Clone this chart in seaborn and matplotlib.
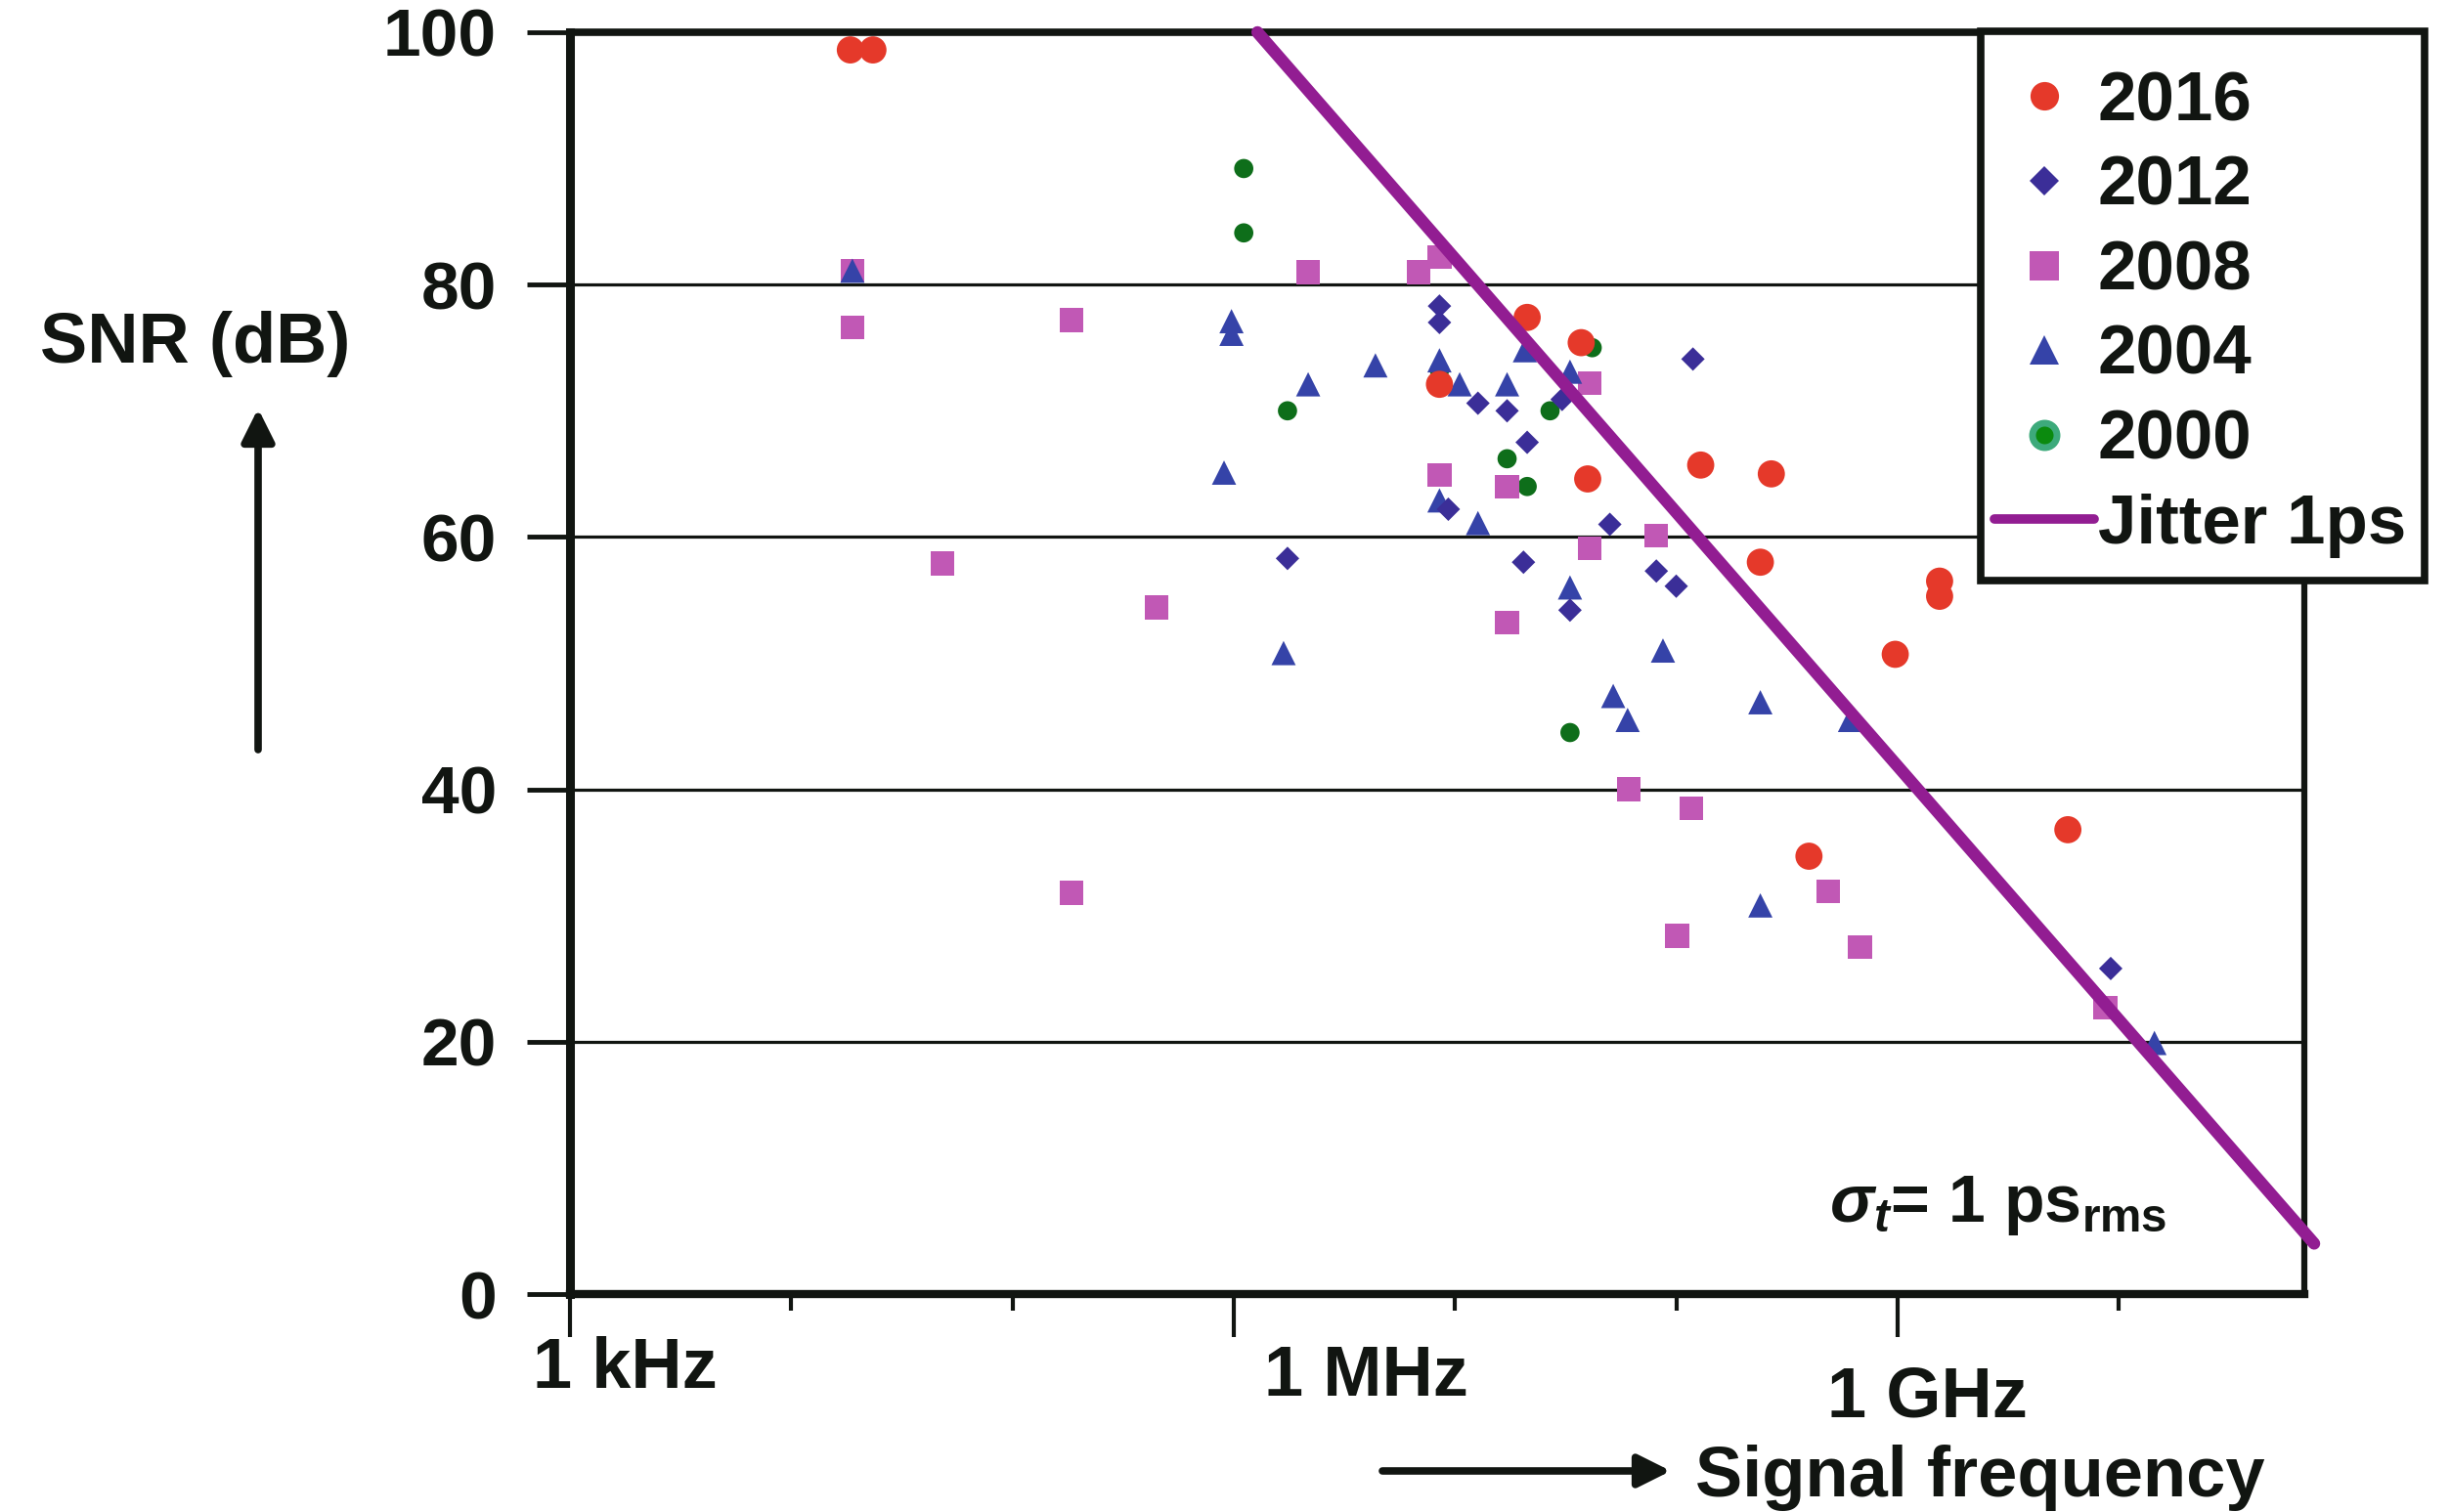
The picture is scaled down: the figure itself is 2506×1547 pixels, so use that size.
import matplotlib
matplotlib.use("Agg")
import matplotlib.pyplot as plt
import seaborn as sns
import pandas as pd
import numpy as np
from matplotlib.lines import Line2D
from matplotlib.patches import Rectangle
from matplotlib.ticker import FixedLocator, NullFormatter

# ---------------- data ----------------
years = ["2000", "2008", "2004", "2012", "2016"]

freq_2016 = [18.5e3, 23.4e3, 21.2e6, 37.2e6, 8.51e6, 39.8e6, 129e6, 269e6,
             240e6, 1.55e9, 1.55e9, 977e6, 398e6, 5.89e9]
snr_2016 = [98.6, 98.6, 77.4, 75.4, 72.1, 64.6, 65.7, 65.0,
            58.0, 56.5, 55.3, 50.7, 34.7, 36.8]

freq_2012 = [8.51e6, 8.51e6, 12.7e6, 17.2e6, 30.5e6, 21.2e6, 9.33e6, 50.1e6,
             1.75e6, 20.4e6, 81.3e6, 100e6, 33.1e6, 119e6, 9.2e9]
snr_2012 = [78.3, 77.0, 70.6, 70.0, 70.9, 67.5, 62.2, 61.0,
            58.3, 58.0, 57.3, 56.1, 54.2, 74.1, 25.8]

freq_2008 = [18.9e3, 18.9e3, 48.3e3, 185e3, 447e3, 185e3, 2.17e6, 6.86e6,
             8.51e6, 40.7e6, 8.51e6, 17.2e6, 81.3e6, 40.7e6, 17.2e6, 61.0e6,
             117e6, 486e6, 101e6, 676e6, 8.71e9]
snr_2008 = [81.1, 76.6, 57.9, 77.2, 54.4, 31.8, 81.0, 81.0,
            82.2, 72.2, 64.9, 64.0, 60.1, 59.1, 53.2, 40.0,
            38.5, 31.9, 28.4, 27.5, 22.7]

freq_2004 = [18.9e3, 977e3, 977e3, 904e3, 1.68e6, 2.17e6, 4.37e6, 8.51e6,
             8.51e6, 10.5e6, 12.7e6, 17.2e6, 20.7e6, 33.1e6, 33.1e6, 51.9e6,
             60.3e6, 87.1e6, 240e6, 610e6, 240e6, 14.5e9]
snr_2004 = [81.1, 77.1, 76.1, 65.1, 50.8, 72.1, 73.6, 74.0,
            62.9, 72.1, 61.1, 72.1, 74.8, 73.1, 56.0, 47.4,
            45.5, 51.0, 46.9, 45.5, 30.8, 19.9]

freq_2000 = [185e3, 1.11e6, 1.11e6, 1.75e6, 8.51e6, 26.9e6, 17.2e6, 21.2e6,
             41.7e6, 33.1e6]
snr_2000 = [77.2, 89.2, 84.1, 70.0, 73.2, 70.0, 66.2, 64.0, 75.0, 44.5]

jitter_freq = [1.28e6, 76.4e9]
jitter_snr = [100.0, 4.0]

y_ticks = [0, 20, 40, 60, 80, 100]
x_tick_labels = ["1 kHz", "1 MHz", "1 GHz"]

# ---------------- style ----------------
sns.set_theme(style="white")
plt.rcParams["font.family"] = ["Liberation Sans", "DejaVu Sans"]
plt.rcParams["font.weight"] = "bold"
plt.rcParams["mathtext.fontset"] = "custom"
plt.rcParams["mathtext.rm"] = "Liberation Sans:bold"
plt.rcParams["mathtext.bf"] = "Liberation Sans:bold"
plt.rcParams["mathtext.it"] = "Liberation Sans:italic"

INK = "#111511"
RED = "#E5392A"
DIAM = "#3B2E98"
PINK = "#C158B5"
BLUE = "#3543A8"
GREEN = "#0E6E1A"
PURPLE = "#921D92"

W, H = 2506, 1547
fig = plt.figure(figsize=(W / 100, H / 100), dpi=100)
fig.patch.set_facecolor("white")
L, R, B, T = 583, 2357, 1324, 33
ax = fig.add_axes([L / W, 1 - B / H, (R - L) / W, (B - T) / H])
ax.set_facecolor("white")

# ---------------- points ----------------
series = {"2000": (freq_2000, snr_2000), "2004": (freq_2004, snr_2004),
          "2008": (freq_2008, snr_2008), "2012": (freq_2012, snr_2012),
          "2016": (freq_2016, snr_2016)}
frames = [pd.DataFrame({"freq": series[yr][0], "snr": series[yr][1], "year": yr})
          for yr in years]
df = pd.concat(frames, ignore_index=True)

palette = {"2016": RED, "2012": DIAM, "2008": PINK, "2004": BLUE, "2000": GREEN}
markers = {"2016": "o", "2012": "D", "2008": "s", "2004": "^", "2000": "o"}
sizes = {"2016": 400, "2012": 150, "2008": 310, "2004": 320, "2000": 200}

sns.scatterplot(data=df, x="freq", y="snr", hue="year", style="year", size="year",
                palette=palette, markers=markers, sizes=sizes, hue_order=years,
                style_order=years, size_order=years, linewidth=0, legend=False,
                ax=ax, zorder=3)

# ---------------- jitter line ----------------
jdf = pd.DataFrame({"freq": jitter_freq, "snr": jitter_snr})
sns.lineplot(data=jdf, x="freq", y="snr", color=PURPLE, lw=9, ax=ax,
             estimator=None, sort=False, zorder=4, clip_on=False)

# ---------------- axes ----------------
ax.set_xscale("log")
ax.set_xlim(1e3, 6.9e10)
ax.set_ylim(0, 100)
ax.xaxis.set_major_locator(FixedLocator([1e3, 1e6, 1e9]))
ax.xaxis.set_minor_locator(FixedLocator([1e4, 1e5, 1e7, 1e8, 1e10]))
ax.xaxis.set_major_formatter(NullFormatter())
ax.xaxis.set_minor_formatter(NullFormatter())
ax.set_yticks(y_ticks)
ax.set_yticklabels([str(v) for v in y_ticks], fontsize=50, fontweight="bold", color=INK)
ax.tick_params(axis="x", which="major", direction="out", length=32, width=3, color=INK, bottom=True)
ax.tick_params(axis="x", which="minor", direction="out", length=12, width=3, color=INK, bottom=True)
ax.tick_params(axis="y", which="major", direction="out", length=32, width=3.5, color=INK, left=True, pad=22)
ax.yaxis.grid(True, color=INK, lw=2.3)
ax.xaxis.grid(False)
ax.set_axisbelow(True)
ax.set_xlabel("")
ax.set_ylabel("")
for side, lw in [("left", 6.5), ("bottom", 6.0), ("top", 5.5), ("right", 4.5)]:
    ax.spines[side].set_visible(True)
    ax.spines[side].set_color(INK)
    ax.spines[side].set_linewidth(lw)

# ---------------- texts ----------------
def ftext(x, y, s, **kw):
    fig.text(x / W, 1 - y / H, s, color=INK, fontweight="bold", **kw)

for lab, xl, yc in zip(x_tick_labels, [545, 1293, 1869], [1401, 1409, 1430]):
    ftext(xl, yc, lab, fontsize=52, ha="left", va="center")

ftext(200, 352, "SNR (dB)", fontsize=52, ha="center", va="center")
ftext(1734, 1512, "Signal frequency", fontsize=52, ha="left", va="center")
ftext(1871, 1250, r"$\sigma_t$= 1 ps$_{\mathbf{rms}}$", fontsize=49, ha="left", va="baseline")

arrow_kw = dict(arrowstyle="-|>", lw=5.5, color=INK, mutation_scale=50, shrinkA=0, shrinkB=0)
ax.annotate("", xy=(264, H - 418), xytext=(264, H - 767), xycoords="figure pixels",
            textcoords="figure pixels", arrowprops=arrow_kw, annotation_clip=False)
ax.annotate("", xy=(1709, H - 1505), xytext=(1414, H - 1505), xycoords="figure pixels",
            textcoords="figure pixels", arrowprops=arrow_kw, annotation_clip=False)

# ---------------- legend ----------------
box_x0, box_x1, box_y0, box_y1 = 2026, 2480, 32, 594
fig.patches.append(Rectangle((box_x0 / W, 1 - box_y1 / H), (box_x1 - box_x0) / W,
                             (box_y1 - box_y0) / H, transform=fig.transFigure,
                             facecolor="white", edgecolor=INK, lw=5.5, zorder=4))

handles = [
    Line2D([], [], ls="none", marker="o", ms=21, mfc=RED, mec=RED, mew=0),
    Line2D([], [], ls="none", marker="D", ms=15.5, mfc=DIAM, mec=DIAM, mew=0),
    Line2D([], [], ls="none", marker="s", ms=22, mfc=PINK, mec=PINK, mew=0),
    Line2D([], [], ls="none", marker="^", ms=22, mfc=BLUE, mec=BLUE, mew=0),
    Line2D([], [], ls="none", marker="o", ms=18, mfc="#0B8A0E", mec="#3DAA7B", mew=5),
    Line2D([], [], color=PURPLE, lw=7),
]
labels = ["2016", "2012", "2008", "2004", "2000", "Jitter 1ps"]
leg = fig.legend(handles, labels, loc="upper left",
                 bbox_to_anchor=(2019 / W, 1 - 51 / H), bbox_transform=fig.transFigure,
                 frameon=False, borderpad=0.3, labelspacing=0.29, handlelength=1.44,
                 handletextpad=0.05, borderaxespad=0, prop={"weight": "bold", "size": 51})
leg.set_zorder(6)
for t in leg.get_texts():
    t.set_color(INK)

fig.savefig("out.png", dpi=100, facecolor="white")
